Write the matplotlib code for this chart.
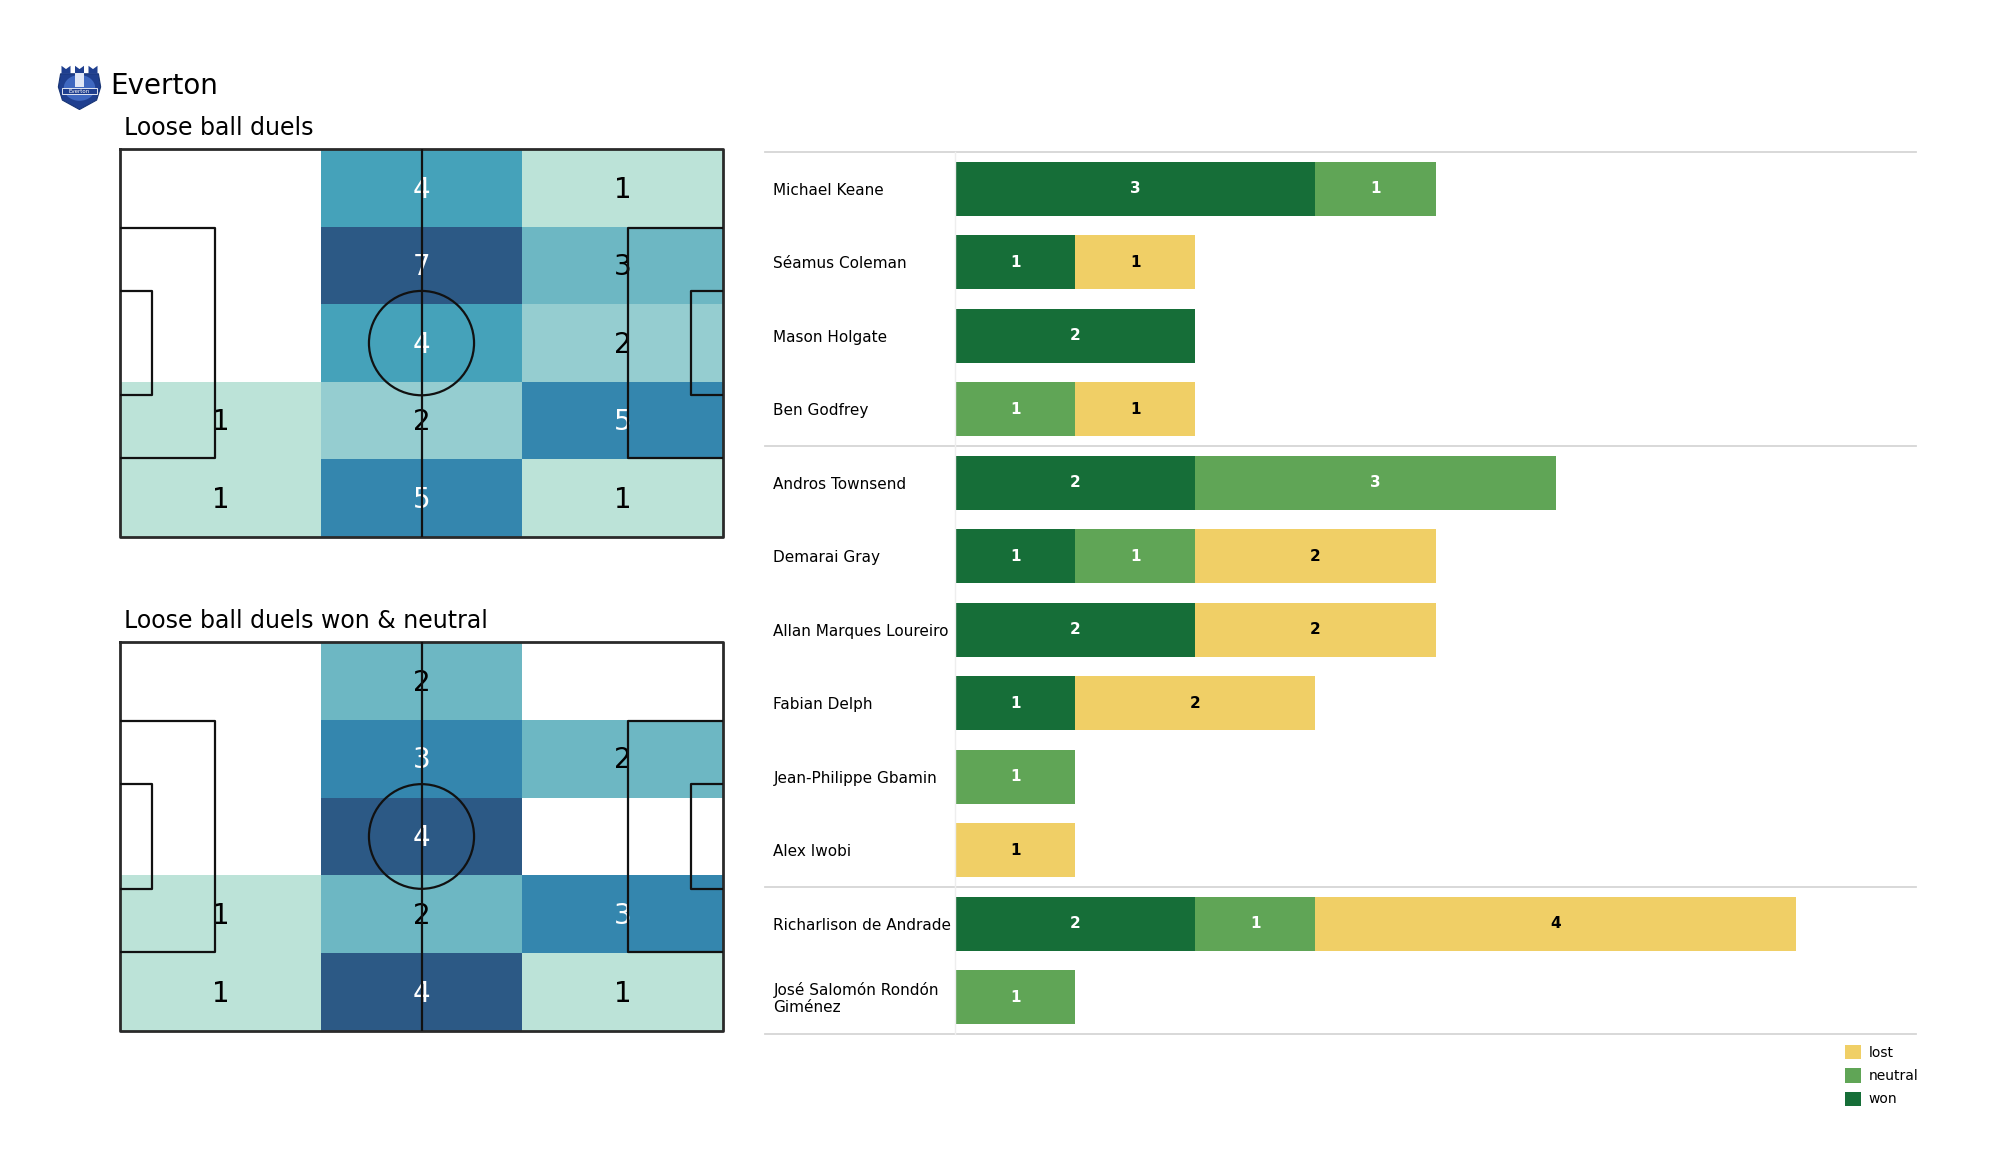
import textwrap
import numpy as np
import matplotlib
matplotlib.use("Agg")
import matplotlib.pyplot as plt
from matplotlib.colors import ListedColormap, Normalize
from matplotlib.patches import Rectangle, Circle, Polygon, Patch, Ellipse
from matplotlib.transforms import blended_transform_factory

# ---------------- data ----------------
team = "Everton"
title_top = "Loose ball duels"
title_bottom = "Loose ball duels won & neutral"

# heatmap grids (rows top -> bottom, columns left -> right)
duels_all = [
    [0, 4, 1],
    [0, 7, 3],
    [0, 4, 2],
    [1, 2, 5],
    [1, 5, 1],
]
duels_won_neutral = [
    [0, 2, 0],
    [0, 3, 2],
    [0, 4, 0],
    [1, 2, 3],
    [1, 4, 1],
]

players = ["Michael Keane", "Séamus Coleman", "Mason Holgate", "Ben Godfrey",
           "Andros Townsend", "Demarai Gray", "Allan Marques Loureiro", "Fabian Delph",
           "Jean-Philippe Gbamin", "Alex Iwobi",
           "Richarlison de Andrade", "José Salomón Rondón Giménez"]
won =     [3, 1, 2, 0, 2, 1, 2, 1, 0, 0, 2, 0]
neutral = [1, 0, 0, 1, 3, 1, 0, 0, 1, 0, 1, 1]
lost =    [0, 1, 0, 1, 0, 2, 2, 2, 0, 1, 4, 0]
group_sizes = [4, 6, 2]

series_names = ["won", "neutral", "lost"]
series_colors = ["#166e38", "#60a556", "#f0cf66"]
label_colors = ["white", "white", "black"]

heat_colors = ["#ffffff", "#bce3d8", "#95cdd0", "#6db7c3", "#45a2ba", "#3486ae", "#2c5985"]

# ---------------- figure ----------------
fig = plt.figure(figsize=(20, 11.75), dpi=100)

# logo (simple crest drawing)
lax = fig.add_axes([0.0285, 0.906, 0.0225, 0.040])
lax.set_xlim(0, 1); lax.set_ylim(0, 1); lax.axis("off")
shield = Polygon([(0.08, 0.78), (0.92, 0.78), (0.97, 0.50), (0.88, 0.22), (0.5, 0.02),
                  (0.12, 0.22), (0.03, 0.50)], closed=True, fc="#1f3f8f", ec="#183575", lw=0.8)
lax.add_patch(shield)
lax.add_patch(Ellipse((0.5, 0.48), 0.7, 0.55, fc="#3f68c0", ec="none"))
for cx in (0.2, 0.5, 0.8):
    lax.add_patch(Polygon([(cx - 0.1, 0.78), (cx - 0.1, 0.95), (cx, 0.88), (cx + 0.1, 0.95),
                           (cx + 0.1, 0.78)], closed=True, fc="#1f3f8f", ec="none"))
lax.add_patch(Rectangle((0.4, 0.5), 0.2, 0.3, fc="#dfe6f5", ec="none"))
lax.add_patch(Rectangle((0.12, 0.34), 0.76, 0.14, fc="#1f3f8f", ec="white", lw=0.6))
lax.text(0.5, 0.41, "Everton", color="white", fontsize=4, ha="center", va="center")

fig.text(0.055, 0.9272, team, fontsize=20, va="center", ha="left")
fig.text(0.062, 0.8914, title_top, fontsize=17, va="center", ha="left")
fig.text(0.062, 0.4713, title_bottom, fontsize=17, va="center", ha="left")

cmap = ListedColormap(heat_colors)


def draw_pitch(ax, grid):
    grid = np.array(grid, dtype=float)
    L, W = 105.0, 68.0
    nrows, ncols = grid.shape
    xe = np.linspace(0, L, ncols + 1)
    ye = np.linspace(0, W, nrows + 1)
    vmax = grid.max()
    ax.pcolormesh(xe, ye, grid, cmap=cmap, norm=Normalize(0, vmax), shading="flat", zorder=1)
    xc = (xe[:-1] + xe[1:]) / 2
    yc = (ye[:-1] + ye[1:]) / 2
    for i in range(nrows):
        for j in range(ncols):
            v = grid[i, j]
            if v > 0:
                col = "white" if v / vmax > 0.5 else "black"
                ax.text(xc[j], yc[i] + 0.3, f"{int(v)}", ha="center", va="center",
                        fontsize=20, color=col, zorder=3)
    lc = "#111111"
    lw = 1.6
    kw = dict(color=lc, lw=lw, zorder=4, clip_on=False, solid_capstyle="butt")
    # outline
    ax.plot([0, L, L, 0, 0], [0, 0, W, W, 0], color="#2a2a2a", lw=2.0, zorder=4, clip_on=False)
    ax.plot([L / 2, L / 2], [0, W], **kw)
    ax.add_patch(Circle((L / 2, W / 2), 9.15, fill=False, ec=lc, lw=lw, zorder=4, clip_on=False))
    # penalty and six-yard boxes
    for x0, sgn in ((0, 1), (L, -1)):
        by0, by1 = W / 2 - 20.16, W / 2 + 20.16
        sy0, sy1 = W / 2 - 9.16, W / 2 + 9.16
        ax.plot([x0, x0 + sgn * 16.5, x0 + sgn * 16.5, x0], [by0, by0, by1, by1], **kw)
        ax.plot([x0, x0 + sgn * 5.5, x0 + sgn * 5.5, x0], [sy0, sy0, sy1, sy1], **kw)
    ax.set_xlim(0, L)
    ax.set_ylim(W, 0)
    ax.axis("off")


ax1 = fig.add_axes([0.06, 0.543, 0.3015, 0.330])
draw_pitch(ax1, duels_all)
ax2 = fig.add_axes([0.06, 0.1226, 0.3015, 0.331])
draw_pitch(ax2, duels_won_neutral)

# ---------------- stacked bars ----------------
bx = fig.add_axes([0.4775, 0.120, 0.4805, 0.7506])
y = np.arange(len(players))
left = np.zeros(len(players))
handles = []
for vals, name, col, tcol in zip([won, neutral, lost], series_names, series_colors, label_colors):
    vals = np.array(vals, dtype=float)
    bx.barh(y, vals, left=left, height=0.73, color=col, label=name, zorder=2)
    for yi, (l, v) in enumerate(zip(left, vals)):
        if v > 0:
            bx.text(l + v / 2, yi, f"{int(v)}", ha="center", va="center", color=tcol,
                    fontsize=11, fontweight="bold", zorder=3)
    left = left + vals
    handles.append(Patch(fc=col, label=name))

bx.set_xlim(0, 8)
bx.set_ylim(len(players) - 0.5, -0.5)
bx.set_xticks([])
bx.set_yticks([])
for s in ("top", "right", "bottom"):
    bx.spines[s].set_visible(False)
bx.spines["left"].set_color("#eeeeee")
bx.spines["left"].set_linewidth(1.0)

trans = blended_transform_factory(bx.transAxes, bx.transData)
for yi, name in enumerate(players):
    bx.text(-0.189, yi + 0.02, textwrap.fill(name, 22), transform=trans, ha="left", va="center",
            fontsize=11, linespacing=1.2)

bounds = np.concatenate([[0], np.cumsum(group_sizes)]) - 0.5
for b in bounds:
    bx.plot([-0.198, 1.0], [b, b], transform=trans, color="#d6d6d6", lw=1.3,
            clip_on=False, zorder=1)

bx.legend(handles=handles[::-1], loc="upper right", bbox_to_anchor=(1.008, -0.006),
          frameon=False, fontsize=10, handlelength=1.2, handleheight=1.2,
          handletextpad=0.5, labelspacing=0.62, borderaxespad=0)

fig.savefig("out.png", dpi=100)
